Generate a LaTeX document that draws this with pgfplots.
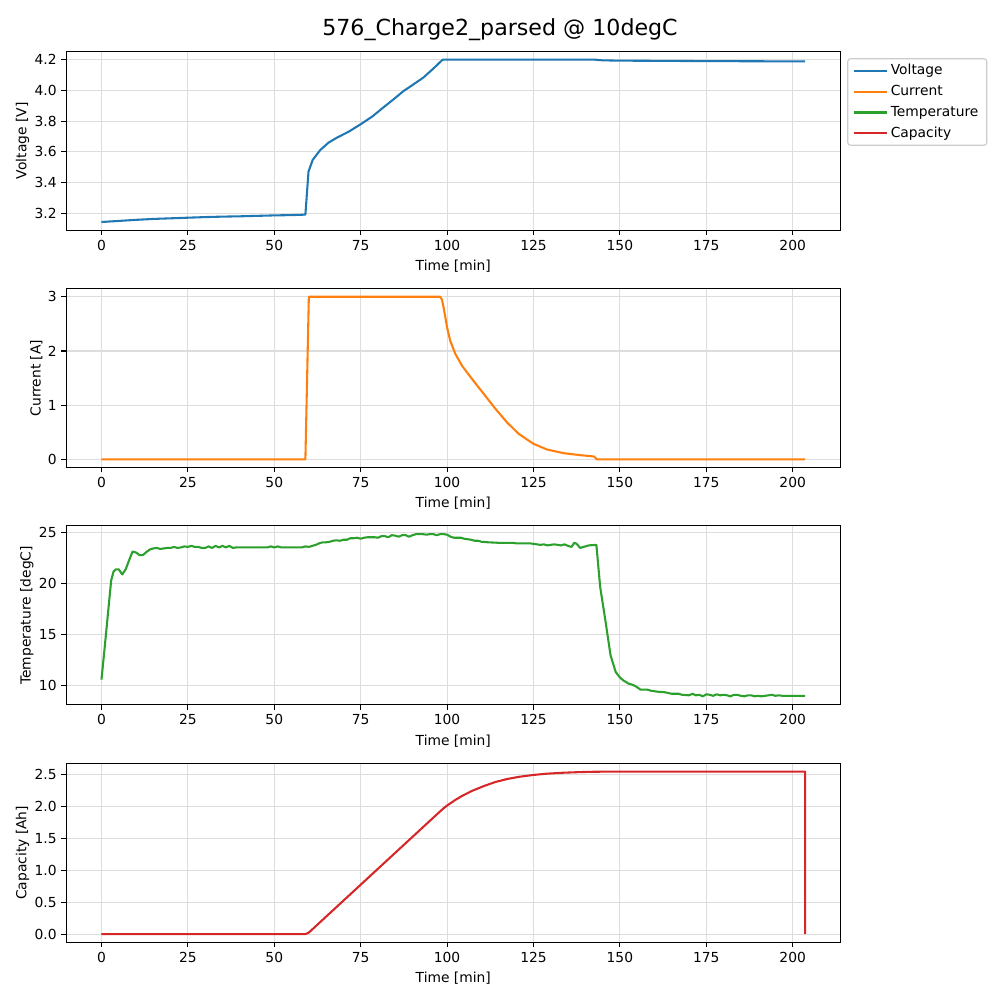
\documentclass[border=0pt]{standalone}
\usepackage{fontspec}
\setmainfont{DejaVu Sans}
\usepackage{pgfplots}
\pgfplotsset{compat=1.18}
\definecolor{tabblue}{HTML}{1F77B4}
\definecolor{taborange}{HTML}{FF7F0E}
\definecolor{tabgreen}{HTML}{2CA02C}
\definecolor{tabred}{HTML}{D62728}
\definecolor{gridc}{HTML}{DDDDDD}
\definecolor{legc}{HTML}{CCCCCC}
\pgfplotsset{
  mpl/.style={
    scale only axis, width=7.74in, height=1.79in,
    anchor=south west,
    xmin=-10.18, xmax=213.78,
    xtick={0,25,50,75,100,125,150,175,200},
    grid=major, major grid style={line width=0.8pt, draw=gridc},
    axis line style={line width=0.8pt},
    tick style={line width=0.8pt, black},
    major tick length=3.5pt, tick align=outside, tick pos=left,
    tick label style={font=\fontsize{10}{12}\selectfont},
    label style={font=\fontsize{10}{12}\selectfont},
    xlabel={Time [min]},
    ylabel shift=-3pt,
    /pgf/number format/assume math mode=true,
    every axis plot/.append style={line width=1.5pt, mark=none, line join=round},
  }
}
\begin{document}
\begin{tikzpicture}
\useasboundingbox (0,0) rectangle (10in,10in);
\node[anchor=base, font=\fontsize{16}{19}\selectfont] at (5in,9.64in) {576\_Charge2\_parsed @ 10degC};

% Voltage
\begin{axis}[mpl, at={(0.663in,7.697in)},
  ymin=3.089, ymax=4.255,
  ytick={3.2,3.4,3.6,3.8,4.0,4.2},
  yticklabel style={/pgf/number format/.cd, fixed, fixed zerofill, precision=1},
  ylabel={Voltage [V]},
  legend style={at={(1,1)}, anchor=north west, xshift=5pt, yshift=-5pt,
    draw=legc, line width=0.8pt, rounded corners=2pt, fill=white,
    font=\fontsize{10}{12}\selectfont, inner xsep=4pt, inner ysep=2pt, row sep=2.2pt},
  legend cell align=left,
  legend image code/.code={\draw[#1, line width=1.5pt] (0pt,0pt) -- (20pt,0pt); \path (0pt,0pt) -- (23.6pt,0pt);},
]
\addplot[tabblue] coordinates {
(0,3.143) (5,3.150) (10,3.157) (15,3.163) (20,3.167) (25,3.171) (30,3.175)
(35,3.178) (40,3.180) (45,3.183) (50,3.186) (55,3.188) (59,3.191)
(59.9,3.471) (61.1,3.547) (63.3,3.612) (65.7,3.660) (68.1,3.692) (71.5,3.731)
(75.1,3.781) (78.3,3.829) (81.6,3.890) (84.5,3.942) (87.4,3.996) (90.3,4.040)
(93.2,4.085) (96.1,4.144) (98.7,4.200) (100,4.201) (120,4.201) (142.5,4.201)
(145,4.196) (150,4.194) (160,4.193) (175,4.191) (190,4.190) (203.6,4.189)
};
\addlegendentry{Voltage}
\addlegendimage{taborange}
\addlegendentry{Current}
\addlegendimage{tabgreen}
\addlegendentry{Temperature}
\addlegendimage{tabred}
\addlegendentry{Capacity}
\end{axis}

% Current
\begin{axis}[mpl, at={(0.663in,5.324in)},
  ymin=-0.15, ymax=3.15,
  ytick={0,1,2,3},
  ylabel={Current [A]},
]
\addplot[taborange] coordinates {
(0,0) (59,0) (60,3) (98,3) (98.5,2.95) (99,2.80) (100,2.435) (100.9,2.19)
(102.4,1.945) (104.3,1.73) (107.2,1.485) (110.6,1.21) (114,0.933)
(117.3,0.687) (120.7,0.473) (125,0.289) (128.9,0.184) (133.7,0.116)
(138.6,0.079) (142.5,0.055) (143.4,0) (203.6,0)
};
\end{axis}

% Temperature
\begin{axis}[mpl, at={(0.663in,2.951in)},
  ymin=8.11, ymax=25.66,
  ytick={10,15,20,25},
  ylabel={Temperature [degC]},
]
\addplot[tabgreen] coordinates {
(0,10.59) (1,14.0) (2,17.5) (2.8,20.3) (3.5,21.2) (4.2,21.4) (5,21.4) (6,20.9)
(7,21.4) (8,22.3) (9,23.15) (10,23.05) (11,22.8) (12,22.8) (13,23.1) (14,23.35)
(15,23.45) (16,23.5) (17,23.4) (18,23.45) (19,23.5) (20,23.5) (21,23.6) (22,23.5)
(23,23.55) (24,23.65) (25,23.6) (26,23.7) (27,23.6) (28,23.6) (29,23.5) (30,23.5)
(31,23.65) (32,23.5) (33,23.7) (34,23.55) (35,23.7) (36,23.55) (37,23.7) (38,23.5)
(39,23.55) (40,23.55) (45,23.55) (48,23.55) (49,23.65) (50,23.55) (51,23.65)
(52,23.55) (56,23.55) (58,23.55) (59,23.65) (60,23.6) (61,23.7) (62,23.8)
(63,23.95) (64,24.05) (65,24.05) (66,24.1) (67,24.2) (68,24.25) (69,24.2)
(70,24.3) (71,24.3) (72,24.45) (73,24.45) (74,24.5) (75,24.4) (76,24.5)
(77,24.55) (78,24.55) (79,24.55) (80,24.5) (81,24.65) (82,24.65) (83,24.55)
(84,24.75) (85,24.7) (86,24.6) (87,24.75) (88,24.75) (89,24.6) (90,24.75)
(91,24.85) (92,24.85) (93,24.85) (94,24.8) (95,24.85) (96,24.85) (97,24.75)
(98,24.85) (99,24.85) (100,24.8) (101,24.6) (102,24.5) (103,24.5) (104,24.5)
(105,24.4) (106,24.35) (107,24.3) (108,24.2) (109,24.2) (110,24.1) (112,24.05)
(115,24.0) (119,24.0) (120,23.95) (124,23.95) (125,23.9) (126,23.85) (127,23.8)
(128,23.85) (129,23.75) (130,23.8) (131,23.85) (132,23.8) (133,23.75) (134,23.85)
(135,23.7) (136,23.6) (136.8,24.0) (137.5,23.9) (138.5,23.5) (139.5,23.6)
(141,23.75) (143.2,23.8) (144.3,19.67) (145.8,16.4) (147.3,12.97) (148.8,11.33)
(150,10.8) (151,10.51) (152.5,10.2) (153.5,10.1) (154.5,9.95) (156,9.6) (158,9.6)
(159,9.5) (161,9.4) (163,9.35) (165,9.2) (167,9.2) (168,9.1) (170,9.05) (171,9.2)
(172,9.05) (173,9.1) (174,8.95) (175,9.15) (176,9.1) (177,9.0) (178,9.15)
(179,9.05) (180,9.1) (181,9.05) (182,8.95) (183,9.1) (184,9.1) (185,9.0)
(186,8.95) (187,9.05) (188,9.05) (189,8.95) (190,9.0) (191,8.95) (192,9.0)
(193,9.05) (194,9.1) (195,9.0) (196,9.05) (197,9.0) (203.6,9.0)
};
\end{axis}

% Capacity
\begin{axis}[mpl, at={(0.663in,0.577in)},
  ymin=-0.1275, ymax=2.6775,
  ytick={0,0.5,1,1.5,2,2.5},
  yticklabel style={/pgf/number format/.cd, fixed, fixed zerofill, precision=1},
  ylabel={Capacity [Ah]},
]
\addplot[tabred] coordinates {
(0,0) (59,0) (60,0.025) (70,0.525) (80,1.025) (90,1.525) (98,1.925) (99,1.973)
(100,2.016) (102.4,2.104) (104.3,2.165) (107.2,2.245) (110.6,2.32) (114,2.385)
(117.3,2.43) (120.7,2.465) (125,2.495) (128.9,2.515) (133.7,2.53) (138.6,2.54)
(142.5,2.545) (150,2.548) (203.6,2.548) (203.6,0)
};
\end{axis}
\end{tikzpicture}
\end{document}
